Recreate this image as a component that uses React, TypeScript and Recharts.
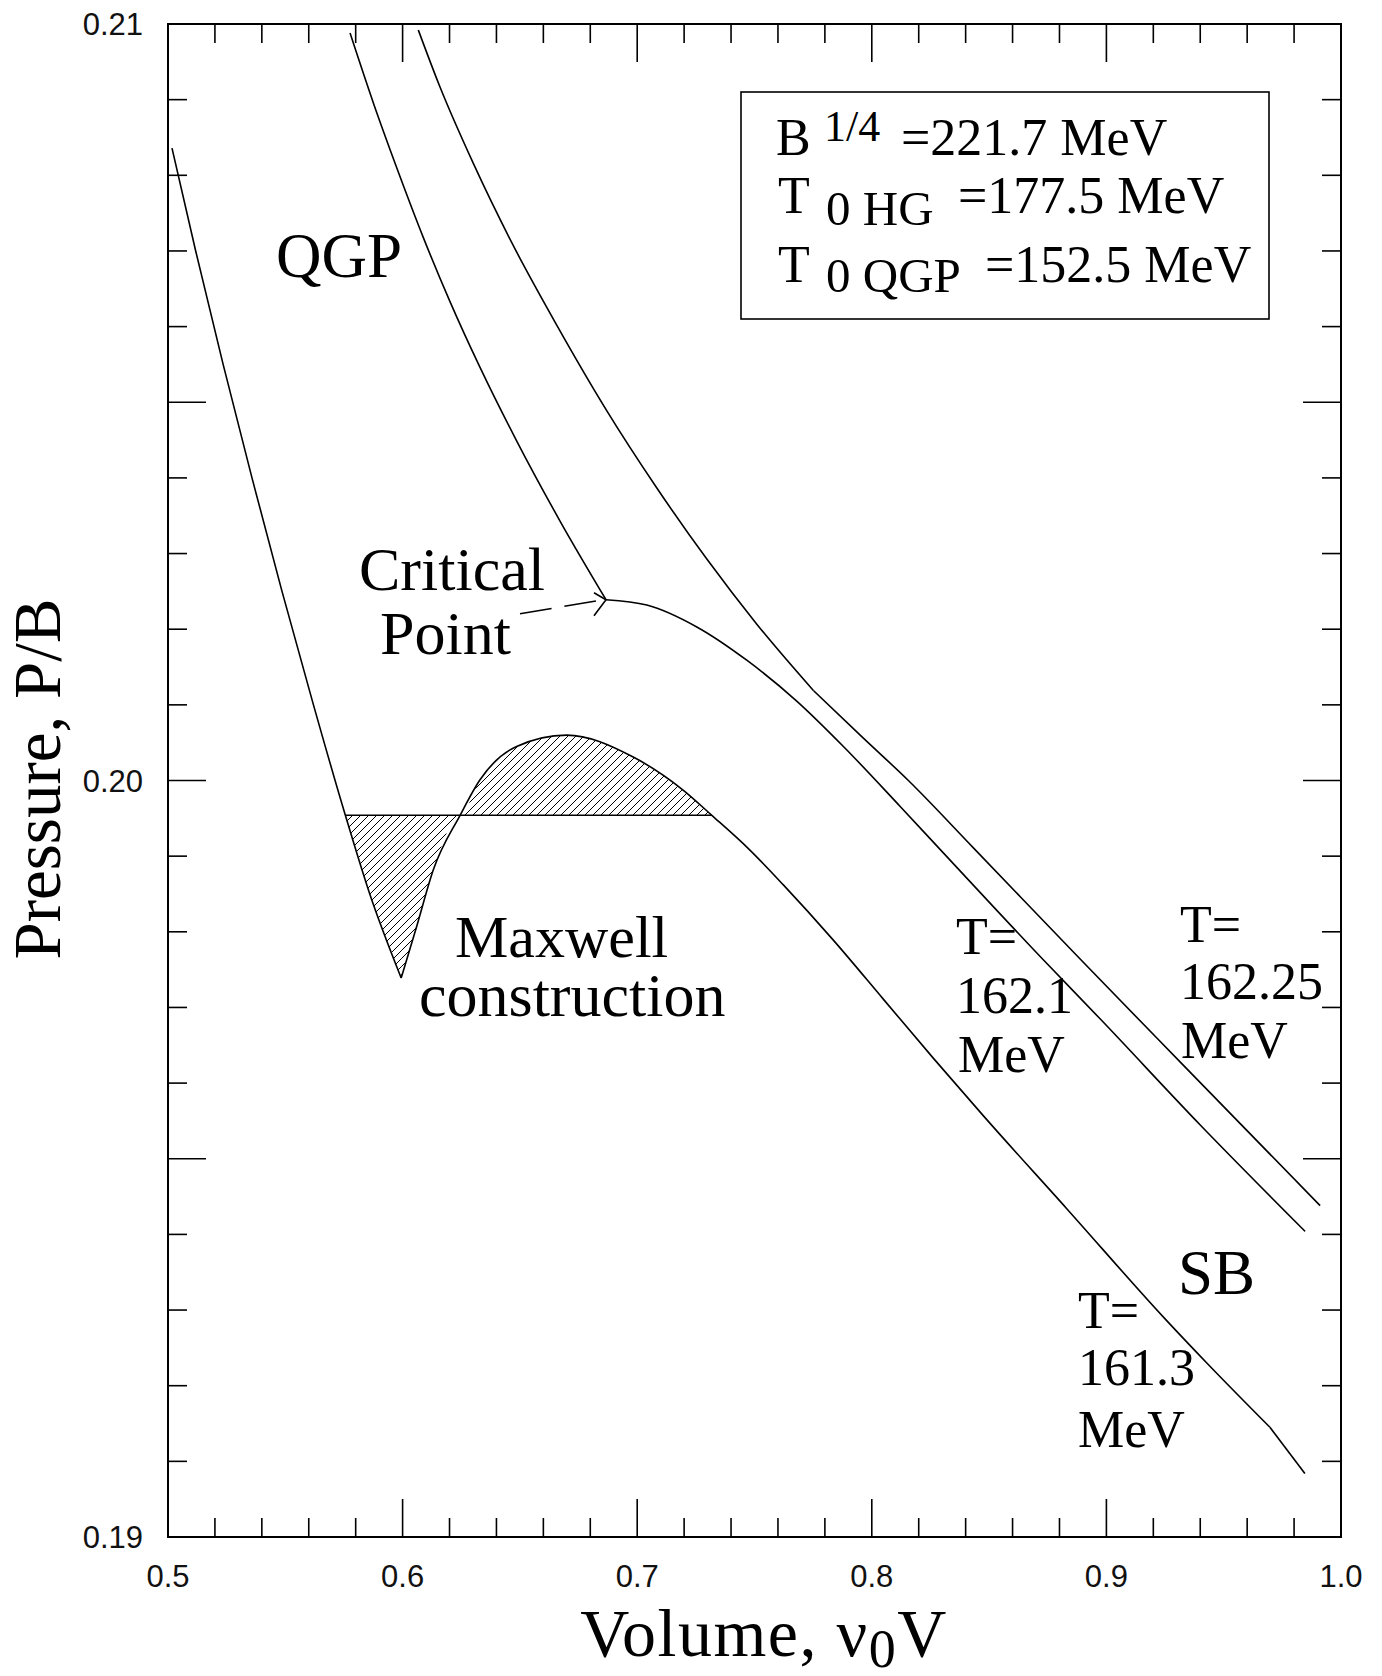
import React from 'react';
import { ComposedChart, Line, Area, XAxis, YAxis, ReferenceArea } from 'recharts';

// Isotherms P/B vs nu0*V
const curve1613: [number, number][] = [
  [0.5017, 0.20836],
  [0.5118, 0.207],
  [0.5235, 0.2055],
  [0.5358, 0.204],
  [0.5486, 0.2025],
  [0.562, 0.201],
  [0.5756, 0.19954],
  [0.586, 0.1985],
  [0.5994, 0.19739],
  [0.606, 0.19807],
  [0.6131, 0.19882],
  [0.6245, 0.19954],
  [0.633, 0.20001],
  [0.6486, 0.20045],
  [0.6699, 0.2006],
  [0.6983, 0.20031],
  [0.7197, 0.19987],
  [0.7318, 0.19954],
  [0.7474, 0.1991],
  [0.7623, 0.19862],
  [0.7836, 0.19789],
  [0.8049, 0.19711],
  [0.8262, 0.19633],
  [0.8475, 0.19557],
  [0.8831, 0.19434],
  [0.9257, 0.19286],
  [0.9428, 0.1923],
  [0.9697, 0.19145],
  [0.9846, 0.19084],
];
const curve1613Breaks = [0.5994, 0.9697];

const curve1621: [number, number][] = [
  [0.5776, 0.20988],
  [0.5875, 0.20896],
  [0.5975, 0.2081],
  [0.6088, 0.20718],
  [0.6202, 0.20633],
  [0.633, 0.20546],
  [0.6486, 0.20449],
  [0.6671, 0.20343],
  [0.6867, 0.20239],
  [0.7041, 0.20232],
  [0.7254, 0.20203],
  [0.7467, 0.20159],
  [0.768, 0.20105],
  [0.7879, 0.20045],
  [0.812, 0.19966],
  [0.8291, 0.19909],
  [0.8731, 0.19763],
  [0.8973, 0.19685],
  [0.9399, 0.19545],
  [0.9847, 0.19404],
];
const curve1621Breaks = [0.6867];

const curve16225: [number, number][] = [
  [0.6067, 0.20992],
  [0.6159, 0.20917],
  [0.6301, 0.20816],
  [0.6472, 0.20707],
  [0.6657, 0.20602],
  [0.687, 0.20489],
  [0.7083, 0.20387],
  [0.7296, 0.20293],
  [0.7509, 0.20207],
  [0.7751, 0.20119],
  [0.7964, 0.20056],
  [0.8156, 0.2],
  [0.8433, 0.19911],
  [0.8888, 0.19764],
  [0.9314, 0.19628],
  [0.9911, 0.19438],
];
const curve16225Breaks = [0.7751];

// Maxwell construction (equal-area line)
const maxwellV = [0.5756, 0.7318];
const maxwellP = 0.19954;

const xTicks = [
  0.5, 0.52, 0.54, 0.56, 0.58, 0.6, 0.62, 0.64, 0.66, 0.68, 0.7, 0.72, 0.74, 0.76, 0.78, 0.8,
  0.82, 0.84, 0.86, 0.88, 0.9, 0.92, 0.94, 0.96, 0.98, 1.0,
];
const xMajor = [0.5, 0.6, 0.7, 0.8, 0.9, 1.0];
const yTicks = [
  0.19, 0.191, 0.192, 0.193, 0.194, 0.195, 0.196, 0.197, 0.198, 0.199, 0.2, 0.201, 0.202, 0.203,
  0.204, 0.205, 0.206, 0.207, 0.208, 0.209, 0.21,
];
const yLong = [0.19, 0.195, 0.2, 0.205, 0.21];
const yLabels = [0.19, 0.2, 0.21];

const W = 1382;
const H = 1676;
const MARGIN = { top: 24, right: 41, left: 0, bottom: 0 };
const Y_AXIS_W = 168;
const X_AXIS_H = 139;
const PLOT_W = W - Y_AXIS_W - MARGIN.right;
const PLOT_H = H - MARGIN.top - X_AXIS_H;

const SERIF = "'Liberation Serif', 'Times New Roman', serif";
const SANS = "'Liberation Sans', Arial, sans-serif";

const near = (list: number[], v: number) => list.some((m) => Math.abs(m - v) < 1e-7);

type Pt = { x: number; y: number };
const split = (pts: [number, number][], breaks: number[]): Pt[][] => {
  const segs: Pt[][] = [[]];
  pts.forEach(([x, y]) => {
    segs[segs.length - 1].push({ x, y });
    if (near(breaks, x)) segs.push([{ x, y }]);
  });
  return segs.filter((s) => s.length > 1);
};

const curveSegs = [
  ...split(curve1613, curve1613Breaks),
  ...split(curve1621, curve1621Breaks),
  ...split(curve16225, curve16225Breaks),
];

const hatchSegs = split(
  curve1613.filter(([x]) => x >= maxwellV[0] - 1e-9 && x <= maxwellV[1] + 1e-9),
  [curve1613Breaks[0]]
).map((seg) =>
  seg.map((p) => ({ x: p.x, range: [Math.min(p.y, maxwellP), Math.max(p.y, maxwellP)] }))
);

const maxwellLine = maxwellV.map((x) => ({ x, y: maxwellP }));

// pixel helpers for annotations
const sx = (v: number) => Y_AXIS_W + ((v - 0.5) / 0.5) * PLOT_W;
const sy = (p: number) => MARGIN.top + ((0.21 - p) / 0.02) * PLOT_H;

const XTick = (props: any) => {
  const { x, y, payload } = props;
  const v = payload.value;
  const major = near(xMajor, v);
  const len = major ? 38 : 19;
  return (
    <g>
      <line x1={x} y1={y} x2={x} y2={y - len} stroke="#000" strokeWidth={1.6} />
      <line x1={x} y1={y - PLOT_H} x2={x} y2={y - PLOT_H + len} stroke="#000" strokeWidth={1.6} />
      {major && (
        <text x={x} y={y + 50} textAnchor="middle" fontFamily={SANS} fontSize={31} fill="#111">
          {v.toFixed(1)}
        </text>
      )}
    </g>
  );
};

const YTick = (props: any) => {
  const { x, y, payload } = props;
  const v = payload.value;
  const len = near(yLong, v) ? 38 : 19;
  return (
    <g>
      <line x1={x} y1={y} x2={x + len} y2={y} stroke="#000" strokeWidth={1.6} />
      <line x1={x + PLOT_W} y1={y} x2={x + PLOT_W - len} y2={y} stroke="#000" strokeWidth={1.6} />
      {near(yLabels, v) && (
        <text x={x - 25} y={y + 11} textAnchor="end" fontFamily={SANS} fontSize={31} fill="#111">
          {v.toFixed(2)}
        </text>
      )}
    </g>
  );
};

const Annotations = () => {
  const tipX = sx(curve1621[8][0]);
  const tipY = sy(curve1621[8][1]);
  return (
    <svg
      width={W}
      height={H}
      style={{ position: 'absolute', left: 0, top: 0, pointerEvents: 'none' }}
      fontFamily={SERIF}
      fill="#000"
    >
      {/* axis titles */}
      <text x={60} y={779} fontSize={67} textAnchor="middle" transform="rotate(-90 60 779)">
        Pressure, P/B
      </text>
      <text x={764} y={1656} fontSize={68} textAnchor="middle" letterSpacing={1.5}>
        Volume, ν<tspan fontSize={54} dy={11}>0</tspan>
        <tspan dy={-11}>V</tspan>
      </text>

      {/* parameter box */}
      <rect x={741} y={92} width={528} height={227} fill="none" stroke="#000" strokeWidth={1.6} />
      <text x={776} y={155} fontSize={52}>B</text>
      <text x={824} y={141} fontSize={44}>1/4</text>
      <text x={901} y={155} fontSize={52}>=221.7 MeV</text>
      <text x={778} y={213} fontSize={52}>T</text>
      <text x={826} y={225} fontSize={49}>0 HG</text>
      <text x={958} y={213} fontSize={52}>=177.5 MeV</text>
      <text x={778} y={282} fontSize={52}>T</text>
      <text x={826} y={292} fontSize={49}>0 QGP</text>
      <text x={985} y={282} fontSize={52}>=152.5 MeV</text>

      {/* region labels */}
      <text x={276} y={277} fontSize={63}>QGP</text>
      <text x={1178} y={1294} fontSize={63}>SB</text>

      <text x={359} y={590} fontSize={62}>Critical</text>
      <text x={380} y={654} fontSize={62}>Point</text>
      <line
        x1={tipX - 86}
        y1={tipY + 14}
        x2={tipX - 2}
        y2={tipY}
        stroke="#000"
        strokeWidth={1.6}
        strokeDasharray="32 13"
      />
      <polyline
        points={`${tipX - 12},${tipY - 7} ${tipX},${tipY} ${tipX - 12},${tipY + 16}`}
        fill="none"
        stroke="#000"
        strokeWidth={1.6}
      />

      <text x={455} y={957} fontSize={60}>Maxwell</text>
      <text x={419} y={1016} fontSize={62}>construction</text>

      {/* isotherm labels */}
      <text x={956} y={954} fontSize={52}>T=</text>
      <text x={956} y={1013} fontSize={52}>162.1</text>
      <text x={958} y={1072} fontSize={52}>MeV</text>

      <text x={1180} y={942} fontSize={52}>T=</text>
      <text x={1180} y={999} fontSize={52}>162.25</text>
      <text x={1181} y={1058} fontSize={52}>MeV</text>

      <text x={1078} y={1328} fontSize={52}>T=</text>
      <text x={1078} y={1385} fontSize={52}>161.3</text>
      <text x={1078} y={1447} fontSize={52}>MeV</text>
    </svg>
  );
};

export default function App() {
  return (
    <div style={{ position: 'absolute', left: 0, top: 0, width: W, height: H, background: '#fff' }}>
      <ComposedChart width={W} height={H} margin={MARGIN}>
        <defs>
          <pattern id="hatch" width={8} height={8} patternUnits="userSpaceOnUse">
            <path d="M-2,2 L2,-2 M0,8 L8,0 M6,10 L10,6" stroke="#000" strokeWidth={1} />
          </pattern>
        </defs>
        <XAxis
          type="number"
          dataKey="x"
          domain={[0.5, 1]}
          ticks={xTicks}
          interval={0}
          tick={<XTick />}
          tickLine={false}
          axisLine={false}
          tickSize={0}
          tickMargin={0}
          height={X_AXIS_H}
          allowDataOverflow
        />
        <YAxis
          type="number"
          domain={[0.19, 0.21]}
          ticks={yTicks}
          interval={0}
          tick={<YTick />}
          tickLine={false}
          axisLine={false}
          tickSize={0}
          tickMargin={0}
          width={Y_AXIS_W}
          allowDataOverflow
        />
        <ReferenceArea
          x1={0.5}
          x2={1}
          y1={0.19}
          y2={0.21}
          fill="none"
          stroke="#000"
          strokeWidth={2}
        />
        {hatchSegs.map((seg, i) => (
          <Area
            key={`h${i}`}
            data={seg}
            dataKey="range"
            type="monotone"
            fill="url(#hatch)"
            fillOpacity={1}
            stroke="none"
            dot={false}
            activeDot={false}
            isAnimationActive={false}
          />
        ))}
        <Line
          data={maxwellLine}
          dataKey="y"
          type="linear"
          stroke="#000"
          strokeWidth={1.6}
          dot={false}
          activeDot={false}
          isAnimationActive={false}
        />
        {curveSegs.map((seg, i) => (
          <Line
            key={`c${i}`}
            data={seg}
            dataKey="y"
            type={seg.length > 2 ? 'monotone' : 'linear'}
            stroke="#000"
            strokeWidth={1.6}
            dot={false}
            activeDot={false}
            isAnimationActive={false}
          />
        ))}
      </ComposedChart>
      <Annotations />
    </div>
  );
}
